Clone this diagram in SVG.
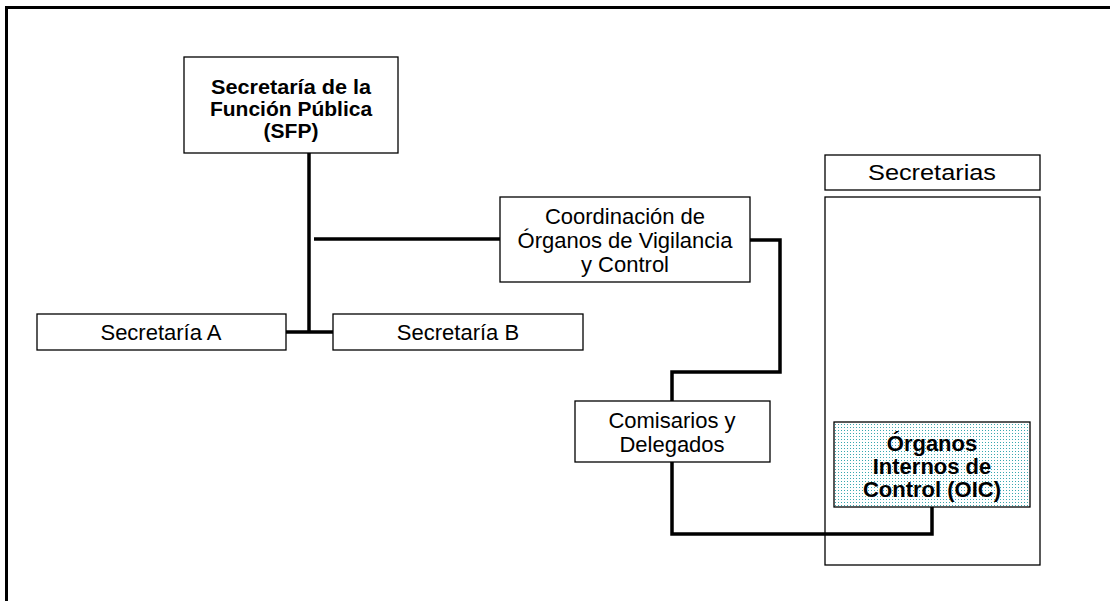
<svg xmlns="http://www.w3.org/2000/svg" width="1110" height="601" viewBox="0 0 1110 601">
<style>
.box{fill:#fff;stroke:#000;stroke-width:1.3}
.area{fill:none;stroke:#000;stroke-width:1.3}
.con{fill:none;stroke:#000;stroke-width:3.5;stroke-linejoin:miter;stroke-linecap:butt}
.t{font-family:"Liberation Sans",Arial,sans-serif;font-size:22px;fill:#000;text-anchor:middle}
.b{font-weight:bold}
.s{font-size:21px}
</style>
<defs>
<pattern id="dots" x="0" y="0" width="3" height="3" patternUnits="userSpaceOnUse">
<rect width="3" height="3" fill="#fff"/>
<rect x="1" y="1" width="1" height="1" fill="#3aa8b0"/>
</pattern>
</defs>
<rect width="1110" height="601" fill="#fff"/>
<g id="frame">
<path d="M6.5 601 V7.5 H1110" fill="none" stroke="#000" stroke-width="3"/>
</g>
<g id="secretarias-area">
<rect class="area" x="825" y="197" width="215" height="368"/>
</g>
<g id="connectors">
<path class="con" d="M309 153 V333"/>
<path class="con" d="M314 239 H500"/>
<path class="con" d="M286 332 H333"/>
<path class="con" d="M750 240 H780 V372 H672 V401"/>
<path class="con" d="M672 462 V534 H932 V506"/>
</g>
<g id="sfp">
<rect class="box" x="184" y="57" width="214" height="96"/>
<text class="t b s" x="291" y="94" textLength="160" lengthAdjust="spacingAndGlyphs">Secretaría de la</text>
<text class="t b s" x="291" y="116">Función Pública</text>
<text class="t b s" x="291" y="138">(SFP)</text>
</g>
<g id="coordinacion">
<rect class="box" x="500" y="197" width="250" height="85"/>
<text class="t" x="625" y="224">Coordinación de</text>
<text class="t" x="625" y="248">Órganos de Vigilancia</text>
<text class="t" x="625" y="272">y Control</text>
</g>
<g id="secretaria-a">
<rect class="box" x="37" y="314" width="249" height="36"/>
<text class="t" x="161" y="340">Secretaría A</text>
</g>
<g id="secretaria-b">
<rect class="box" x="333" y="314" width="250" height="36"/>
<text class="t" x="458" y="340">Secretaría B</text>
</g>
<g id="secretarias">
<rect class="box" x="825" y="155" width="215" height="35"/>
<text class="t" x="932" y="180" textLength="128" lengthAdjust="spacingAndGlyphs">Secretarias</text>
</g>
<g id="comisarios">
<rect class="box" x="575" y="401" width="195" height="61"/>
<text class="t" x="672" y="428">Comisarios y</text>
<text class="t" x="672" y="452">Delegados</text>
</g>
<g id="oic">
<rect x="834" y="422" width="196" height="85" fill="url(#dots)" stroke="#000" stroke-width="1.3"/>
<text class="t b" x="932" y="451">Órganos</text>
<text class="t b" x="932" y="474">Internos de</text>
<text class="t b" x="932" y="497">Control (OIC)</text>
</g>
</svg>
